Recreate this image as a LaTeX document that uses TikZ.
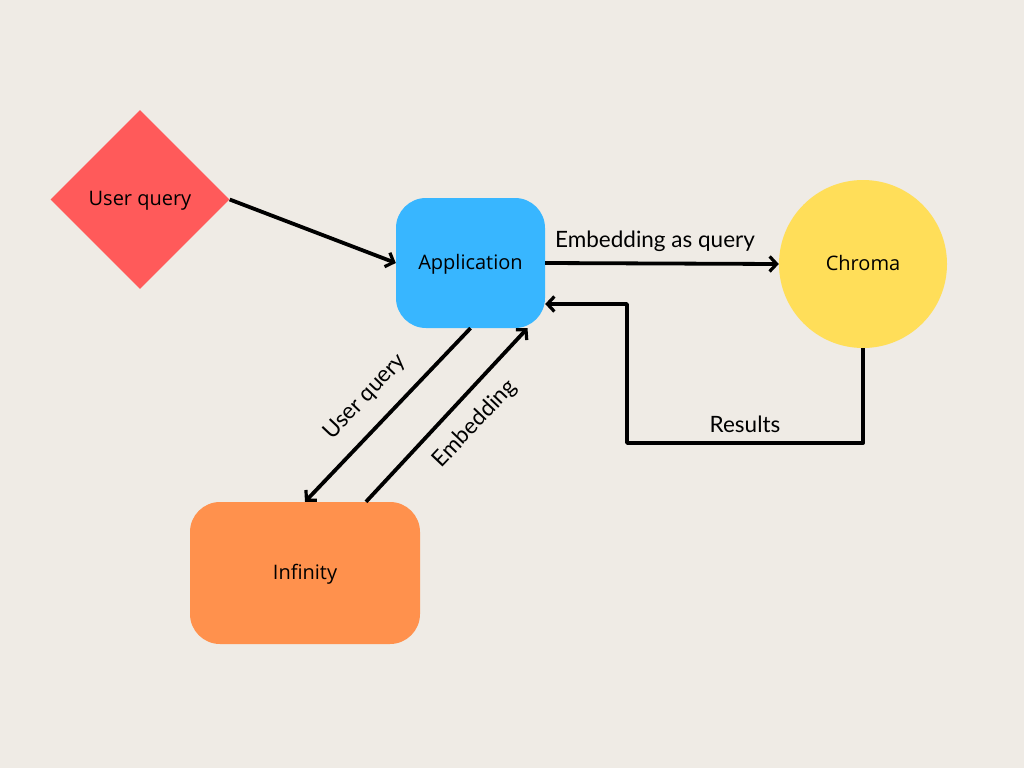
\documentclass[tikz,border=0pt]{standalone}
\usepackage{fontspec}
\setmainfont{Open Sans}
\newfontfamily\labfont{Lato}
\usetikzlibrary{arrows.meta,shapes.geometric}
\definecolor{bg}{HTML}{EFEBE5}
\definecolor{cred}{HTML}{FF5A5A}
\definecolor{cblue}{HTML}{38B6FF}
\definecolor{cyellow}{HTML}{FFDE59}
\definecolor{corange}{HTML}{FF914D}
\tikzset{
  conn/.style={line width=3.8pt, -{Straight Barb[length=7pt,width=15pt,line width=3.2pt]}},
  shapetext/.style={font=\fontsize{20}{24}\selectfont, text=black, inner sep=0pt,
    text height=12pt, text depth=0pt},
  roundbox/.style={shapetext, rectangle, rounded corners=30pt},
  lab/.style={font=\labfont\fontsize{22.5}{26}\selectfont, text=black, inner sep=0pt},
}
\begin{document}
\begin{tikzpicture}[x=1pt,y=-1pt]
\fill[bg] (0,0) rectangle (1024,768);
\useasboundingbox (0,0) rectangle (1024,768);
\node[shapetext, diamond, aspect=1, fill=cred, minimum width=179pt, minimum height=179pt] (uq) at (140,199.5) {User query};
\node[roundbox, fill=cblue, minimum width=149pt, minimum height=130pt] (app) at (470.5,263) {Application};
\node[shapetext, circle, fill=cyellow, minimum size=168pt] (chroma) at (863,264) {Chroma};
\node[roundbox, fill=corange, minimum width=230pt, minimum height=142pt] (inf) at (305,573) {Infinity};
\coordinate (bendA) at (863,443);
\coordinate (bendB) at (627,443);
\coordinate (bendC) at (627,304);
\draw[conn] (uq.east) -- (app.west);
\draw[conn] (app.east) -- (chroma.west);
\draw[conn, line join=round] (chroma.south) -- (bendA) -- (bendB) -- (bendC) -- (app.east |- bendC);
\draw[conn] (app.south) -- (inf.north);
\draw[conn] ([xshift=61pt]inf.north) -- ([xshift=57pt]app.south);
\node[lab] (l1) at (655,241) {Embedding as query};
\node[lab] (l2) at (745,424) {Results};
\node[lab, rotate=46.5] (l3) at (365,397) {User query};
\node[lab, rotate=46.5] (l4) at (475,424) {Embedding};
\end{tikzpicture}
\end{document}
